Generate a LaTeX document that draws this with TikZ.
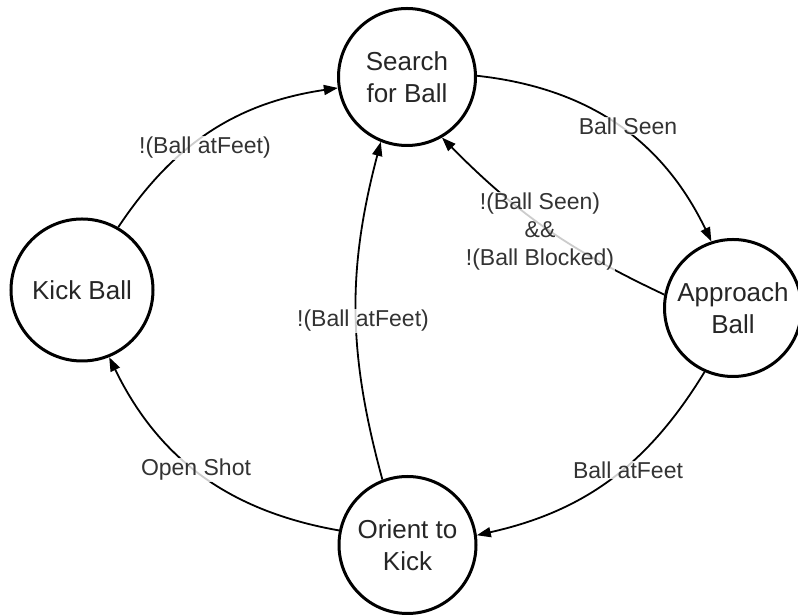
\documentclass[tikz,border=0pt]{standalone}
\usepackage{fontspec}
\setmainfont{Liberation Sans}
\usetikzlibrary{arrows.meta}
\begin{document}
\begin{tikzpicture}[x=1pt,y=1pt,
  state/.style={circle, draw=black, line width=3pt, minimum size=137pt,
    inner sep=0pt, align=center, text=black!85,
    font=\fontsize{26}{31.5}\selectfont},
  trans/.style={line width=1.8pt, -{Triangle[length=14pt,width=10pt]}},
  lbl/.style={fill=white, fill opacity=0.8, text opacity=1, inner sep=1pt,
    align=center, text=black!80, font=\fontsize{23}{28}\selectfont}]
\useasboundingbox (0,0) rectangle (798,615);

% states
\node[state] (search) at (407,538) {Search\\for Ball};
\node[state, minimum size=142pt] (kick) at (82,325) {Kick Ball};
\node[state] (approach) at (733,307) {Approach\\Ball};
\node[state] (orient) at (407.5,70) {Orient to\\Kick};

% transitions
\draw[trans] (kick.60) to[bend left=24] (search.189);
\draw[trans] (search.1) to[bend left=29] (approach.108);
\draw[trans] (approach.169) to[bend left=10] (search.300);
\draw[trans] (approach.246) to[bend left=23] (orient.8);
\draw[trans] (orient.168) to[bend left=27] (kick.292);
\draw[trans] (orient.111) to[bend left=15] (search.248);

% transition conditions
\node[lbl] (l1) at (205,467) {!(Ball atFeet)};
\node[lbl] (l2) at (628,489) {Ball Seen};
\node[lbl] (l3) at (540,383) {!(Ball Seen)\\\&\&\\!(Ball Blocked)};
\node[lbl] (l4) at (363,294) {!(Ball atFeet)};
\node[lbl] (l5) at (196,145) {Open Shot};
\node[lbl] (l6) at (628,145) {Ball atFeet};
\end{tikzpicture}
\end{document}
